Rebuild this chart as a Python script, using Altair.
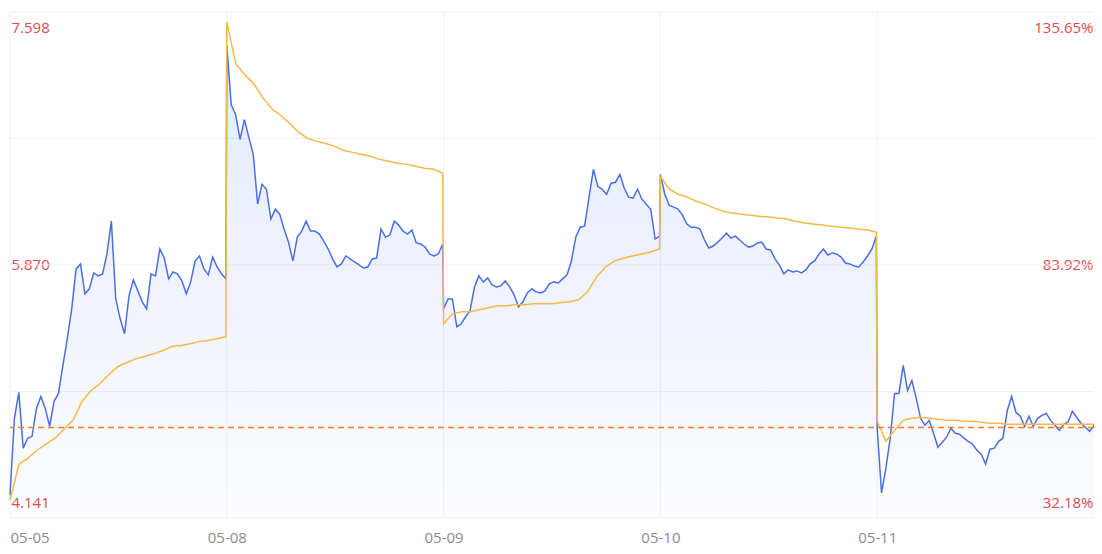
import json
import altair as alt
import pandas as pd

# ---------------- data ----------------
dates = ["05-05", "05-08", "05-09", "05-10", "05-11"]
day_starts = [0, 50, 100, 150, 200]
price_ticks = [4.141, 5.870, 7.598]
pct_ticks = [32.18, 83.92, 135.65]
grid_prices = [4.141, 5.005, 5.870, 6.734, 7.598]
prev_close = 4.760

price_0505 = [4.298, 4.822, 4.999, 4.618, 4.686, 4.699, 4.890, 4.972, 4.890, 4.767,
              4.938, 4.992, 5.183, 5.366, 5.570, 5.843, 5.877, 5.673, 5.707, 5.815,
              5.795, 5.809, 5.945, 6.169, 5.638, 5.502, 5.400, 5.659, 5.768, 5.693,
              5.618, 5.570, 5.809, 5.795, 5.979, 5.917, 5.775, 5.822, 5.809, 5.761,
              5.673, 5.754, 5.897, 5.931, 5.843, 5.802, 5.924, 5.856, 5.809, 5.775]
price_0508 = [7.374, 6.965, 6.897, 6.727, 6.863, 6.741, 6.625, 6.285, 6.421, 6.387,
              6.183, 6.251, 6.217, 6.115, 6.026, 5.897, 6.060, 6.101, 6.169, 6.101,
              6.101, 6.081, 6.033, 5.979, 5.911, 5.856, 5.877, 5.931, 5.911, 5.890,
              5.870, 5.849, 5.856, 5.911, 5.917, 6.115, 6.060, 6.074, 6.169, 6.142,
              6.101, 6.081, 6.108, 6.020, 6.013, 5.992, 5.945, 5.931, 5.945, 6.013]
price_0509 = [5.570, 5.638, 5.638, 5.448, 5.468, 5.516, 5.557, 5.720, 5.795, 5.754,
              5.781, 5.734, 5.720, 5.727, 5.761, 5.720, 5.666, 5.584, 5.618, 5.679,
              5.707, 5.686, 5.679, 5.693, 5.741, 5.754, 5.747, 5.775, 5.802, 5.897,
              6.060, 6.128, 6.135, 6.333, 6.523, 6.407, 6.387, 6.353, 6.428, 6.435,
              6.489, 6.394, 6.333, 6.326, 6.387, 6.319, 6.285, 6.250, 6.047, 6.067]
price_0510 = [6.489, 6.353, 6.278, 6.265, 6.251, 6.210, 6.149, 6.128, 6.128, 6.115,
              6.040, 5.986, 5.999, 6.026, 6.054, 6.088, 6.054, 6.067, 6.040, 6.013,
              5.992, 5.999, 6.020, 6.026, 5.979, 5.972, 5.911, 5.870, 5.809, 5.836,
              5.822, 5.829, 5.815, 5.836, 5.877, 5.897, 5.945, 5.979, 5.938, 5.952,
              5.945, 5.924, 5.883, 5.877, 5.863, 5.856, 5.890, 5.931, 5.979, 6.067]
price_0511 = [4.754, 4.312, 4.482, 4.686, 4.992, 4.992, 5.183, 5.012, 5.080, 4.958,
              4.822, 4.774, 4.808, 4.720, 4.625, 4.659, 4.693, 4.754, 4.720, 4.713,
              4.686, 4.665, 4.645, 4.604, 4.577, 4.509, 4.611, 4.618, 4.665, 4.686,
              4.876, 4.972, 4.863, 4.836, 4.767, 4.836, 4.767, 4.822, 4.842, 4.856,
              4.808, 4.774, 4.740, 4.781, 4.795, 4.870, 4.829, 4.788, 4.761, 4.733,
              4.774]

avg_0505 = [4.264, 4.509, 4.550, 4.604, 4.645, 4.686, 4.747, 4.808, 4.938, 5.012,
            5.060, 5.121, 5.176, 5.203, 5.230, 5.244, 5.264, 5.285, 5.312, 5.319,
            5.332, 5.346, 5.353, 5.366, 5.380]
avg_0508 = [7.530, 7.244, 7.170, 7.108, 7.013, 6.938, 6.891, 6.836, 6.775, 6.734,
            6.714, 6.700, 6.680, 6.652, 6.639, 6.625, 6.612, 6.591, 6.578, 6.564,
            6.557, 6.544, 6.530, 6.523, 6.496]
avg_0509 = [5.468, 5.536, 5.550, 5.550, 5.564, 5.577, 5.591, 5.591, 5.598, 5.598,
            5.604, 5.604, 5.604, 5.611, 5.618, 5.632, 5.686, 5.788, 5.856, 5.897,
            5.917, 5.931, 5.945, 5.958, 5.979]
avg_0510 = [6.476, 6.387, 6.353, 6.333, 6.305, 6.285, 6.258, 6.237, 6.224, 6.217,
            6.210, 6.203, 6.197, 6.190, 6.183, 6.169, 6.156, 6.149, 6.142, 6.135,
            6.128, 6.122, 6.115, 6.108, 6.094]
avg_0511 = [4.802, 4.665, 4.740, 4.808, 4.822, 4.829, 4.822, 4.815, 4.808, 4.808,
            4.802, 4.802, 4.795, 4.788, 4.788, 4.781, 4.781, 4.781, 4.781, 4.781,
            4.781, 4.781, 4.781, 4.781, 4.781, 4.781]

day_prices = [price_0505, price_0508, price_0509, price_0510, price_0511]
day_avgs = [avg_0505, avg_0508, avg_0509, avg_0510, avg_0511]


def build(series):
    rows = []
    last = len(series) - 1
    for d, arr in enumerate(series):
        span = 50.0 if d == last else 49.8
        step = span / (len(arr) - 1)
        for k, v in enumerate(arr):
            rows.append({"t": day_starts[d] + k * step, "v": v})
    return pd.DataFrame(rows)


price_df = build(day_prices)
avg_df = build(day_avgs)

# ---------------- style ----------------
FONT = "Open Sans"
RED = "#e5484d"
GREY = "#8c8c8c"
GRID = "#f1f1f1"

x_scale = alt.Scale(domain=[0, 250], nice=False, zero=False)
y_scale = alt.Scale(domain=[price_ticks[0], price_ticks[-1]], nice=False, zero=False)

x_axis = alt.Axis(values=day_starts, labelExpr=json.dumps(dates) + "[round(datum.value / 50)]",
                  labelFlush=True, domain=False, ticks=False, tickSize=0, grid=False,
                  labelPadding=12, labelColor=GREY, labelFontSize=15, labelFont=FONT,
                  title=None, orient="bottom")
left_axis = alt.Axis(values=price_ticks, format=".3f", orient="left", labelAlign="left",
                     labelPadding=-1, tickSize=0, ticks=False, domain=False, grid=False,
                     labelFlush=True, labelFlushOffset=-8, labelColor=RED, labelFontSize=15,
                     labelFont=FONT, title=None)
right_axis = alt.Axis(values=pct_ticks, labelExpr="format(datum.value, '.2f') + '%'",
                      orient="right", labelAlign="right", labelPadding=-1, tickSize=0,
                      ticks=False, domain=False, grid=False, labelFlush=True,
                      labelFlushOffset=-8, labelColor=RED, labelFontSize=15, labelFont=FONT,
                      title=None)

X = lambda f: alt.X(f, scale=x_scale, axis=x_axis)
Y = lambda f: alt.Y(f, scale=y_scale, axis=left_axis)

hgrid = alt.Chart(pd.DataFrame({"v": grid_prices})).mark_rule(color=GRID, strokeWidth=1).encode(
    y=Y("v:Q"))
vgrid = alt.Chart(pd.DataFrame({"t": day_starts})).mark_rule(color=GRID, strokeWidth=1).encode(
    x=X("t:Q"))

gradient = alt.Gradient(
    gradient="linear",
    stops=[alt.GradientStop(color="rgba(74,111,227,0.15)", offset=0),
           alt.GradientStop(color="rgba(74,111,227,0.02)", offset=1)],
    x1=1, x2=1, y1=0, y2=1)

area = alt.Chart(price_df).mark_area(color=gradient).encode(
    x=X("t:Q"), y=Y("v:Q"), y2=alt.datum(price_ticks[0]))

blue = alt.Chart(price_df).mark_line(color="#4a6fe3", strokeWidth=1.5).encode(
    x=X("t:Q"), y=Y("v:Q"))

orange = alt.Chart(avg_df).mark_line(color="#f5b94a", strokeWidth=1.5).encode(
    x=X("t:Q"), y=Y("v:Q"))

dashed = alt.Chart(pd.DataFrame({"v": [prev_close]})).mark_rule(
    color="#f07c2c", strokeDash=[6, 4], strokeWidth=1.5).encode(y=Y("v:Q"))

pct_layer = alt.Chart(pd.DataFrame({"pct": pct_ticks})).mark_point(opacity=0).encode(
    y=alt.Y("pct:Q", scale=alt.Scale(domain=[pct_ticks[0], pct_ticks[-1]], nice=False, zero=False),
            axis=right_axis))

price_layers = alt.layer(hgrid, vgrid, area, blue, orange, dashed)

chart = alt.layer(price_layers, pct_layer).resolve_scale(y="independent").properties(
    width=1084, height=506,
    padding={"left": 2, "top": 4, "right": 0, "bottom": 28},
    autosize=alt.AutoSizeParams(type="none"),
    background="white",
).configure_view(stroke=None)

chart.save("out.html", embed_options={"renderer": "svg", "actions": False})
